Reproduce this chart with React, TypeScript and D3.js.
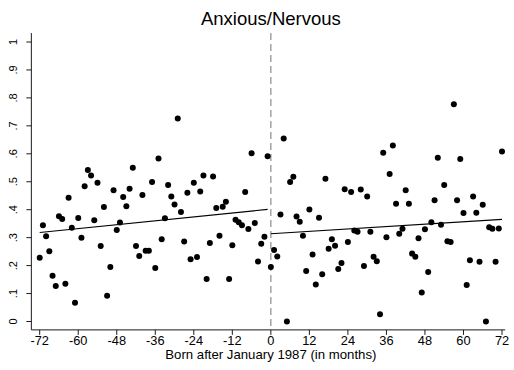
import { useEffect, useRef } from "react";
import * as d3 from "d3";

const WIDTH = 514;
const HEIGHT = 370;

// months relative to January 1987, before the cutoff
const beforeMonths = d3.range(-72, 0);
const beforeValues = [
  0.228, 0.344, 0.305, 0.251, 0.164, 0.127, 0.377, 0.367, 0.135, 0.443, 0.335, 0.067,
  0.37, 0.3, 0.484, 0.542, 0.522, 0.362, 0.496, 0.27, 0.41, 0.092, 0.195, 0.47,
  0.327, 0.354, 0.445, 0.412, 0.475, 0.55, 0.27, 0.234, 0.453, 0.253, 0.253, 0.499,
  0.191, 0.583, 0.294, 0.369, 0.488, 0.447, 0.419, 0.726, 0.392, 0.286, 0.461, 0.223,
  0.496, 0.231, 0.465, 0.522, 0.152, 0.281, 0.519, 0.406, 0.307, 0.411, 0.428, 0.152,
  0.273, 0.364, 0.355, 0.344, 0.463, 0.331, 0.602, 0.352, 0.215, 0.278, 0.303, 0.591,
];

// months from the cutoff onwards
const afterMonths = d3.range(0, 73);
const afterValues = [
  0.195, 0.256, 0.233, 0.383, 0.655, 0.0, 0.499, 0.518, 0.376, 0.357, 0.307, 0.181,
  0.401, 0.24, 0.132, 0.371, 0.169, 0.511, 0.26, 0.294, 0.271, 0.188, 0.209, 0.473,
  0.284, 0.463, 0.326, 0.321, 0.472, 0.199, 0.447, 0.321, 0.232, 0.216, 0.026, 0.604,
  0.301, 0.528, 0.63, 0.421, 0.314, 0.332, 0.47, 0.421, 0.243, 0.232, 0.298, 0.104,
  0.33, 0.177, 0.355, 0.434, 0.586, 0.346, 0.488, 0.287, 0.284, 0.777, 0.434, 0.581,
  0.388, 0.131, 0.219, 0.447, 0.389, 0.214, 0.418, 0.0, 0.337, 0.332, 0.214, 0.333,
  0.608,
];

const xTicks = d3.range(-72, 73, 12);
const yTicks = d3.range(0, 11).map((d) => d / 10);
const yTickLabel = (d: number) => (d === 0 ? "0" : d === 1 ? "1" : d3.format(".1f")(d).replace(/^0/, ""));

type Pt = { x: number; y: number };

// ordinary least squares line
function fitLine(pts: Pt[]) {
  const mx = d3.mean(pts, (p) => p.x) ?? 0;
  const my = d3.mean(pts, (p) => p.y) ?? 0;
  const sxy = d3.sum(pts, (p) => (p.x - mx) * (p.y - my));
  const sxx = d3.sum(pts, (p) => (p.x - mx) ** 2);
  const b = sxy / sxx;
  return (x: number) => my + b * (x - mx);
}

export default function App() {
  const svgRef = useRef<SVGSVGElement>(null);

  useEffect(() => {
    if (!svgRef.current) return;
    const svg = d3.select(svgRef.current);
    svg.selectAll("*").remove();

    const x = d3.scaleLinear().domain([-72, 72]).range([39.7, 502]);
    const y = d3.scaleLinear().domain([0, 1]).range([321.5, 42]);

    const font = "Liberation Sans, Arial, Helvetica, sans-serif";
    const axisColor = "#1a1a1a";

    const before: Pt[] = beforeMonths.map((m, i) => ({ x: m, y: beforeValues[i] }));
    const after: Pt[] = afterMonths.map((m, i) => ({ x: m, y: afterValues[i] }));

    const axisLeft = x(-74.6);
    const axisBottom = y(-0.03);
    const axisTop = y(1.032);

    // title
    svg
      .append("text")
      .attr("x", x(0))
      .attr("y", 25)
      .attr("text-anchor", "middle")
      .attr("font-family", font)
      .attr("font-size", 18.5)
      .attr("fill", "#000")
      .text("Anxious/Nervous");

    // cutoff line
    svg
      .append("line")
      .attr("x1", x(0))
      .attr("x2", x(0))
      .attr("y1", axisTop)
      .attr("y2", axisBottom)
      .attr("stroke", "#8c8c8c")
      .attr("stroke-width", 1.2)
      .attr("stroke-dasharray", "7,4");

    // y axis
    svg
      .append("line")
      .attr("x1", axisLeft)
      .attr("x2", axisLeft)
      .attr("y1", axisTop)
      .attr("y2", axisBottom)
      .attr("stroke", axisColor)
      .attr("stroke-width", 1);

    const yg = svg.append("g");
    yg.selectAll("line")
      .data(yTicks)
      .join("line")
      .attr("x1", axisLeft - 5)
      .attr("x2", axisLeft)
      .attr("y1", (d) => y(d))
      .attr("y2", (d) => y(d))
      .attr("stroke", axisColor);
    yg.selectAll("text")
      .data(yTicks)
      .join("text")
      .attr("transform", (d) => `translate(17,${y(d)}) rotate(-90)`)
      .attr("text-anchor", "middle")
      .attr("font-family", font)
      .attr("font-size", 11)
      .attr("fill", "#000")
      .text(yTickLabel);

    // x axis
    svg
      .append("line")
      .attr("x1", axisLeft)
      .attr("x2", x(73))
      .attr("y1", axisBottom)
      .attr("y2", axisBottom)
      .attr("stroke", axisColor)
      .attr("stroke-width", 1);

    const xg = svg.append("g");
    xg.selectAll("line")
      .data(xTicks)
      .join("line")
      .attr("x1", (d) => x(d))
      .attr("x2", (d) => x(d))
      .attr("y1", axisBottom)
      .attr("y2", axisBottom + 5)
      .attr("stroke", axisColor);
    xg.selectAll("text")
      .data(xTicks)
      .join("text")
      .attr("x", (d) => x(d))
      .attr("y", axisBottom + 15)
      .attr("text-anchor", "middle")
      .attr("font-family", font)
      .attr("font-size", 12.8)
      .attr("fill", "#000")
      .text((d) => String(d));

    svg
      .append("text")
      .attr("x", x(0))
      .attr("y", axisBottom + 29)
      .attr("text-anchor", "middle")
      .attr("font-family", font)
      .attr("font-size", 13.2)
      .attr("fill", "#000")
      .text("Born after January 1987 (in months)");

    // points
    svg
      .append("g")
      .selectAll("circle")
      .data([...before, ...after])
      .join("circle")
      .attr("cx", (d) => x(d.x))
      .attr("cy", (d) => y(d.y))
      .attr("r", 3)
      .attr("fill", "#000");

    // fitted lines on each side of the cutoff
    const segments = [
      { pts: before, from: -72, to: -1 },
      { pts: after, from: 0, to: 72 },
    ];
    segments.forEach((s) => {
      const f = fitLine(s.pts);
      svg
        .append("line")
        .attr("x1", x(s.from))
        .attr("x2", x(s.to))
        .attr("y1", y(f(s.from)))
        .attr("y2", y(f(s.to)))
        .attr("stroke", "#000")
        .attr("stroke-width", 1.1);
    });
  }, []);

  return (
    <svg
      ref={svgRef}
      width={WIDTH}
      height={HEIGHT}
      style={{ position: "absolute", left: 0, top: 0, background: "#fff" }}
    />
  );
}
